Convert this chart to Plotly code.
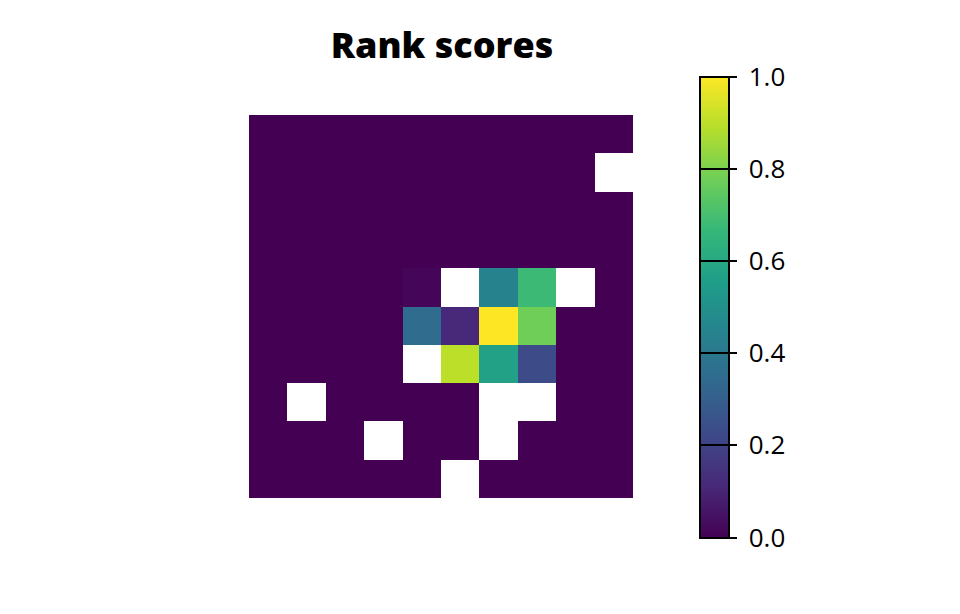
import plotly.graph_objects as go

nan = None
cols = list(range(10))
rows = list(range(10))
z = [
    [0, 0, 0, 0, 0, 0, 0, 0, 0, 0],
    [0, 0, 0, 0, 0, 0, 0, 0, 0, nan],
    [0, 0, 0, 0, 0, 0, 0, 0, 0, 0],
    [0, 0, 0, 0, 0, 0, 0, 0, 0, 0],
    [0, 0, 0, 0, 0.015, nan, 0.45, 0.68, nan, 0],
    [0, 0, 0, 0, 0.35, 0.11, 1.0, 0.78, 0, 0],
    [0, 0, 0, 0, nan, 0.90, 0.57, 0.23, 0, 0],
    [0, nan, 0, 0, 0, 0, nan, nan, 0, 0],
    [0, 0, 0, nan, 0, 0, nan, 0, 0, 0],
    [0, 0, 0, 0, 0, nan, 0, 0, 0, 0],
]
tickvals = [0.0, 0.2, 0.4, 0.6, 0.8, 1.0]
ticktext = ["0.0", "0.2", "0.4", "0.6", "0.8", "1.0"]

W, H = 960, 614
L, R, T, B = 249, 327, 115, 116
pw = W - L - R
ph = H - T - B
cb_x = (700 - L) / pw
cb_y = (H - B - (77 + 537) / 2) / ph

common_cb = dict(
    thickness=29, thicknessmode="pixels",
    len=461, lenmode="pixels",
    x=cb_x, xanchor="left", xpad=0,
    y=cb_y, yanchor="middle", ypad=0,
    tickmode="array", tickvals=tickvals,
)
clear = [[0, "rgba(0,0,0,0)"], [1, "rgba(0,0,0,0)"]]

fig = go.Figure()
fig.add_trace(go.Heatmap(
    z=z, x=cols, y=rows, colorscale="Viridis", zmin=0, zmax=1,
    hoverongaps=False,
    colorbar=dict(
        **common_cb, ticktext=ticktext,
        ticks="outside", ticklen=14, tickwidth=2, tickcolor="rgba(0,0,0,0)",
        outlinewidth=2, outlinecolor="black",
        tickfont=dict(family="Open Sans", size=26, color="black"),
    ),
))
# tick lines across the bar
fig.add_trace(go.Heatmap(
    z=[[0]], x=[0], y=[0], zmin=0, zmax=1, colorscale=clear,
    hoverinfo="skip",
    colorbar=dict(
        **common_cb, ticktext=[""] * len(tickvals), showticklabels=False,
        ticks="inside", ticklen=29, tickwidth=2, tickcolor="black",
        outlinewidth=0,
    ),
))
# short outside ticks
fig.add_trace(go.Heatmap(
    z=[[0]], x=[0], y=[0], zmin=0, zmax=1, colorscale=clear,
    hoverinfo="skip",
    colorbar=dict(
        **common_cb, ticktext=[""] * len(tickvals), showticklabels=False,
        ticks="outside", ticklen=8, tickwidth=2, tickcolor="black",
        outlinewidth=0,
    ),
))

fig.update_layout(
    width=W, height=H,
    margin=dict(l=L, r=R, t=T, b=B, pad=0),
    paper_bgcolor="white", plot_bgcolor="white",
    title=dict(text="Rank scores", x=442 / W, xanchor="center",
               y=1 - 45 / H, yanchor="middle",
               font=dict(family="Open Sans", size=36, weight=800, color="black")),
    xaxis=dict(visible=False, range=[-0.5, 9.5]),
    yaxis=dict(visible=False, range=[9.5, -0.5]),
)
fig.write_html("out.html")
